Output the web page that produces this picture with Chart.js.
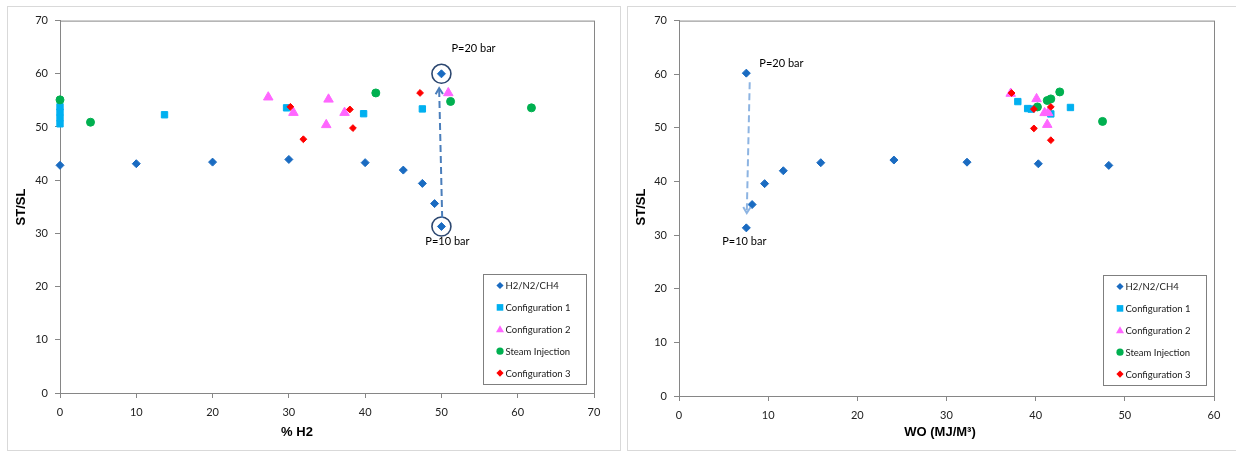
<!DOCTYPE html>
<html>
<head>
<meta charset="utf-8">
<script src="https://cdn.jsdelivr.net/npm/chart.js"></script>
<style>
  body { margin: 0; background: #fff; width: 1236px; height: 451px; overflow: hidden; position: relative; }
  .panel { position: absolute; border: 1px solid #d9d9d9; background: #fff; }
  #p1 { left: 7px; top: 6px; width: 612px; height: 443px; }
  #p2 { left: 627px; top: 6px; width: 612px; height: 443px; }
  canvas { display: block; }
</style>
</head>
<body>
<div class="panel" id="p1"><canvas id="left" width="612" height="443"></canvas></div>
<div class="panel" id="p2"><canvas id="right" width="612" height="443"></canvas></div>
<script>
// series names & colours
const seriesNames = ['H2/N2/CH4', 'Configuration 1', 'Configuration 2', 'Steam Injection', 'Configuration 3'];
const seriesColors = ['#1a6bc1', '#00b0f0', '#ff66ff', '#00b050', '#ff0000'];
const seriesStyles = ['rectRot', 'rect', 'triangle', 'circle', 'rectRot'];
const seriesRadius = [4, 4.5, 5.5, 4, 3.4];

// left chart: % H2 vs ST/SL
const h2_base = [0, 10, 20, 30, 40, 45, 47.5, 49.1, 50, 50];
const stsl_base = [42.8, 43.1, 43.4, 43.9, 43.3, 41.9, 39.4, 35.6, 31.3, 60.0];
const h2_conf1 = [0, 0, 0, 0, 13.7, 29.7, 39.8, 47.5];
const stsl_conf1 = [50.6, 51.7, 52.8, 53.8, 52.3, 53.6, 52.5, 53.4];
const h2_conf2 = [27.3, 30.6, 35.2, 34.9, 37.3, 50.9];
const stsl_conf2 = [55.6, 52.7, 55.2, 50.4, 52.7, 56.4];
const h2_steam = [0, 4.0, 41.4, 51.2, 61.8];
const stsl_steam = [55.1, 50.9, 56.4, 54.8, 53.6];
const h2_conf3 = [30.2, 31.9, 38.0, 38.4, 47.2];
const stsl_conf3 = [53.8, 47.7, 53.3, 49.8, 56.4];

// right chart: WO vs ST/SL
const wo_base = [7.55, 7.55, 8.2, 9.6, 11.7, 15.9, 24.1, 32.3, 40.3, 48.2];
const stslWo_base = [60.2, 31.35, 35.7, 39.6, 42.0, 43.5, 44.0, 43.6, 43.3, 43.0];
const wo_conf1 = [38.0, 39.1, 39.5, 41.7, 43.9];
const stslWo_conf1 = [54.9, 53.6, 53.5, 52.6, 53.8];
const wo_conf2 = [37.2, 40.1, 41.0, 41.4, 41.3];
const stslWo_conf2 = [56.4, 55.4, 52.8, 52.8, 50.6];
const wo_steam = [40.2, 41.3, 41.7, 42.7, 47.5];
const stslWo_steam = [53.9, 55.1, 55.4, 56.7, 51.2];
const wo_conf3 = [37.3, 39.8, 41.7, 39.8, 41.7];
const stslWo_conf3 = [56.5, 53.5, 53.9, 49.9, 47.7];

// pressure annotations (data values)
const leftCircles = [[50, 60.0], [50, 31.3]];
const leftArrow = [[50.1, 32.9], [49.7, 57.3]];
const rightArrow = [[7.93, 58.5], [7.6, 34.1]];
const pLabels = ['P=20 bar', 'P=10 bar'];

const FONT = 'Lato, "Liberation Sans", sans-serif';

function zip(xs, ys) { return xs.map((x, i) => ({x: x, y: ys[i]})); }

function makeDatasets(pairs) {
  return pairs.map((p, i) => ({
    label: seriesNames[i],
    data: zip(p[0], p[1]),
    pointStyle: seriesStyles[i],
    pointRadius: seriesRadius[i],
    pointHoverRadius: seriesRadius[i],
    backgroundColor: seriesColors[i],
    borderColor: seriesColors[i],
    borderWidth: 1,
    clip: false,
    order: 5 - i
  }));
}

function marker(ctx, style, x, y, r, color) {
  ctx.save();
  ctx.fillStyle = color;
  ctx.beginPath();
  if (style === 'rectRot') {
    ctx.moveTo(x, y - r); ctx.lineTo(x + r, y); ctx.lineTo(x, y + r); ctx.lineTo(x - r, y);
  } else if (style === 'rect') {
    ctx.rect(x - r, y - r, 2 * r, 2 * r);
  } else if (style === 'triangle') {
    ctx.moveTo(x, y - r); ctx.lineTo(x + r, y + r * 0.75); ctx.lineTo(x - r, y + r * 0.75);
  } else {
    ctx.arc(x, y, r, 0, Math.PI * 2);
  }
  ctx.closePath();
  ctx.fill();
  ctx.restore();
}

function dashedArrow(ctx, chart, from, to, color) {
  const sx = chart.scales.x, sy = chart.scales.y;
  const x1 = sx.getPixelForValue(from[0]), y1 = sy.getPixelForValue(from[1]);
  const x2 = sx.getPixelForValue(to[0]), y2 = sy.getPixelForValue(to[1]);
  ctx.save();
  ctx.strokeStyle = color;
  ctx.lineWidth = 2;
  ctx.setLineDash([7, 4]);
  ctx.beginPath(); ctx.moveTo(x1, y1); ctx.lineTo(x2, y2); ctx.stroke();
  ctx.setLineDash([]);
  const a = Math.atan2(y2 - y1, x2 - x1);
  ctx.beginPath();
  ctx.moveTo(x2 - 7 * Math.cos(a - 0.55), y2 - 7 * Math.sin(a - 0.55));
  ctx.lineTo(x2, y2);
  ctx.lineTo(x2 - 7 * Math.cos(a + 0.55), y2 - 7 * Math.sin(a + 0.55));
  ctx.stroke();
  ctx.restore();
}

function extras(opt) {
  return {
    id: 'extras',
    beforeDatasetsDraw(chart) {
      const c = chart.ctx, a = chart.chartArea;
      c.save();
      c.strokeStyle = '#868686';
      c.lineWidth = 1;
      c.strokeRect(a.left + 0.5, a.top + 0.5, a.right - a.left, a.bottom - a.top);
      c.restore();
    },
    afterDraw(chart) {
      const c = chart.ctx, a = chart.chartArea;
      const sx = chart.scales.x, sy = chart.scales.y;
      opt.annotate(c, chart, sx, sy);

      // axis titles
      c.save();
      c.fillStyle = '#000';
      c.font = 'bold 13px "Liberation Sans", Arial, sans-serif';
      c.textAlign = 'center';
      c.textBaseline = 'middle';
      c.fillText(opt.xTitle, opt.xTitleX, 425);
      c.translate(13, 200);
      c.rotate(-Math.PI / 2);
      c.fillText('ST/SL', 0, 0);
      c.restore();

      // legend box
      const w = 103, h = 110;
      const lx = a.right - 8 - w, ly = a.bottom - opt.legendBottom - h;
      c.save();
      c.fillStyle = '#fff';
      c.fillRect(lx, ly, w, h);
      c.strokeStyle = '#7f7f7f';
      c.lineWidth = 1;
      c.strokeRect(lx + 0.5, ly + 0.5, w, h);
      c.font = '9.5px ' + FONT;
      c.textBaseline = 'middle';
      c.textAlign = 'left';
      chart.data.datasets.forEach((ds, i) => {
        const yy = ly + 11.5 + i * 21.9;
        const r = ds.pointStyle === 'rect' ? 3.3 : (ds.pointStyle === 'triangle' ? 4 : 3.6);
        marker(c, ds.pointStyle, lx + 17, yy, r, ds.backgroundColor);
        c.fillStyle = '#1a1a1a';
        c.fillText(ds.label, lx + 22.5, yy + 0.5);
      });
      c.restore();
    }
  };
}

function axisOpts(max, widthFit, heightFit, isX) {
  return {
    type: 'linear',
    min: 0, max: max,
    ticks: { stepSize: 10, color: '#222', font: { family: FONT, size: 11 }, padding: isX ? 8 : 7 },
    grid: { display: true, drawOnChartArea: false, drawTicks: true, tickLength: 5, color: '#868686' },
    border: { display: true, color: '#868686', width: 1 },
    afterFit: s => { if (isX) s.height = heightFit; else s.width = widthFit; }
  };
}

function build(id, datasets, xMax, opt) {
  new Chart(document.getElementById(id), {
    type: 'scatter',
    data: { datasets: datasets },
    options: {
      responsive: false,
      animation: false,
      events: [],
      layout: { padding: { top: opt.padTop, right: opt.padRight, left: 0, bottom: 0 } },
      plugins: { legend: { display: false }, tooltip: { enabled: false } },
      scales: {
        x: axisOpts(xMax, 0, opt.xHeight, true),
        y: axisOpts(70, opt.yWidth, 0, false)
      }
    },
    plugins: [extras(opt)]
  });
}

build('left', makeDatasets([
  [h2_base, stsl_base], [h2_conf1, stsl_conf1], [h2_conf2, stsl_conf2],
  [h2_steam, stsl_steam], [h2_conf3, stsl_conf3]
]), 70, {
  padTop: 9, padRight: 26, xHeight: 57, yWidth: 52,
  xTitle: '% H2', xTitleX: 289, legendBottom: 9,
  annotate(c, chart, sx, sy) {
    c.save();
    c.strokeStyle = '#2c4770';
    c.lineWidth = 1.6;
    leftCircles.forEach(p => {
      c.beginPath();
      c.arc(sx.getPixelForValue(p[0]), sy.getPixelForValue(p[1]), 9.5, 0, Math.PI * 2);
      c.stroke();
    });
    c.restore();
    dashedArrow(c, chart, leftArrow[0], leftArrow[1], '#4a7ebb');
    c.save();
    c.fillStyle = '#000';
    c.font = '11px ' + FONT;
    c.textBaseline = 'middle';
    c.textAlign = 'left';
    c.fillText(pLabels[0], sx.getPixelForValue(leftCircles[0][0]) + 10, sy.getPixelForValue(leftCircles[0][1]) - 25);
    c.textAlign = 'center';
    c.fillText(pLabels[1], sx.getPixelForValue(leftCircles[1][0]) + 6, sy.getPixelForValue(leftCircles[1][1]) + 15);
    c.restore();
  }
});

build('right', makeDatasets([
  [wo_base, stslWo_base], [wo_conf1, stslWo_conf1], [wo_conf2, stslWo_conf2],
  [wo_steam, stslWo_steam], [wo_conf3, stslWo_conf3]
]), 60, {
  padTop: 11, padRight: 26, xHeight: 54, yWidth: 51,
  xTitle: 'WO (MJ/M³)', xTitleX: 312, legendBottom: 11,
  annotate(c, chart, sx, sy) {
    dashedArrow(c, chart, rightArrow[0], rightArrow[1], '#8db4e2');
    c.save();
    c.fillStyle = '#000';
    c.font = '11px ' + FONT;
    c.textBaseline = 'middle';
    c.textAlign = 'left';
    c.fillText(pLabels[0], sx.getPixelForValue(wo_base[0]) + 13, sy.getPixelForValue(stslWo_base[0]) - 10);
    c.textAlign = 'center';
    c.fillText(pLabels[1], sx.getPixelForValue(wo_base[1]) - 2, sy.getPixelForValue(stslWo_base[1]) + 14);
    c.restore();
  }
});
</script>
</body>
</html>
